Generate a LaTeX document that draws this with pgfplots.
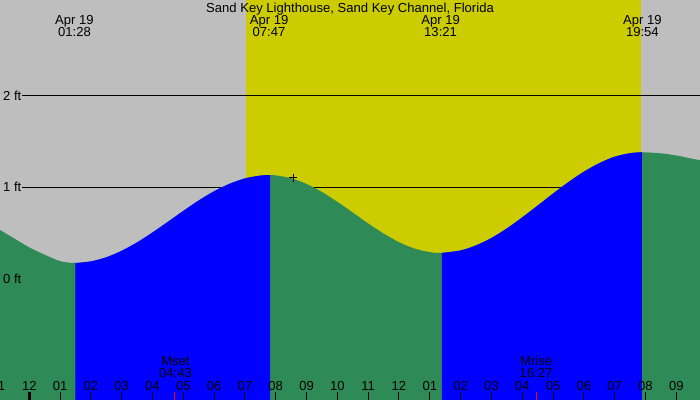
\documentclass[border=0pt]{standalone}
\usepackage{pgfplots}
\pgfplotsset{compat=1.18}
\usepackage{fontspec}
\setmainfont{Liberation Sans}
\definecolor{bggray}{HTML}{BEBEBE}
\definecolor{sunyel}{HTML}{CCCC00}
\definecolor{tidegreen}{HTML}{2E8B57}
\definecolor{tideblue}{HTML}{0000FF}

\begin{document}
\begin{tikzpicture}[font=\fontsize{9.8}{11}\selectfont]
\begin{axis}[
    scale only axis,
    width=525pt, height=300pt,
    xmin=-0.95, xmax=21.77,
    ymin=-1.328, ymax=3.044,
    axis background/.style={fill=bggray},
    axis line style={draw=none},
    axis on top,
    ytick=\empty,
    xtick={-1,0,...,21},
    xticklabels={11,12,01,02,03,04,05,06,07,08,09,10,11,12,01,02,03,04,05,06,07,08,09},
    xtick pos=bottom,
    tick align=inside,
    major tick length=6pt,
    tick style={black, line width=0.75pt},
    xticklabel style={anchor=base, yshift=7.5pt},
    clip=true,
]
% daylight
\addplot[fill=sunyel, draw=none] coordinates {(7.03,-1.4) (7.03,3.1) (19.85,3.1) (19.85,-1.4)} -- cycle;
% height lines
\addplot[black, line width=0.75pt] coordinates {(-0.237,0) (21.8,0)};
\addplot[black, line width=0.75pt] coordinates {(-0.237,1) (21.8,1)};
\addplot[black, line width=0.75pt] coordinates {(-0.237,2) (21.8,2)};
% tide, falling parts (green) over the whole day
\addplot[fill=tidegreen, draw=none, smooth] coordinates {
  (-1.0,0.54) (-0.5,0.44) (0.0,0.34) (0.5,0.26) (1.0,0.19) (1.47,0.17)
  (2.0,0.187) (2.5,0.232) (3.0,0.303) (3.5,0.395) (4.0,0.503) (4.5,0.620)
  (5.0,0.739) (5.5,0.853) (6.0,0.954) (6.5,1.035) (7.0,1.094) (7.5,1.125) (7.78,1.13)
  (8.0,1.127) (8.5,1.096) (9.0,1.033) (9.5,0.946) (10.0,0.838) (10.5,0.721)
  (11.0,0.602) (11.5,0.491) (12.0,0.397) (12.5,0.328) (13.0,0.288) (13.35,0.28)
  (14.0,0.307) (14.5,0.362) (15.0,0.443) (15.5,0.547) (16.0,0.668) (16.5,0.797)
  (17.0,0.928) (17.5,1.054) (18.0,1.167) (18.5,1.261) (19.0,1.331) (19.5,1.370) (19.9,1.38)
  (20.5,1.368) (21.0,1.345) (21.5,1.31) (21.9,1.285)
} -- (axis cs:21.9,-1.5) -- (axis cs:-1.0,-1.5) -- cycle;
% rising parts (blue)
\addplot[fill=tideblue, draw=none, smooth] coordinates {
  (1.50,0.17) (2.0,0.187) (2.5,0.232) (3.0,0.303) (3.5,0.395) (4.0,0.503) (4.5,0.620)
  (5.0,0.739) (5.5,0.853) (6.0,0.954) (6.5,1.035) (7.0,1.094) (7.5,1.125) (7.82,1.13)
} -- (axis cs:7.82,-1.5) -- (axis cs:1.50,-1.5) -- cycle;
\addplot[fill=tideblue, draw=none, smooth] coordinates {
  (13.39,0.28) (14.0,0.307) (14.5,0.362) (15.0,0.443) (15.5,0.547) (16.0,0.668) (16.5,0.797)
  (17.0,0.928) (17.5,1.054) (18.0,1.167) (18.5,1.261) (19.0,1.331) (19.5,1.370) (19.88,1.38)
} -- (axis cs:19.88,-1.5) -- (axis cs:13.39,-1.5) -- cycle;
% current time
\addplot[only marks, mark=+, mark size=3pt, black, line width=0.75pt] coordinates {(8.56,1.10)};
% special ticks
\addplot[black, line width=2.25pt] coordinates {(0,-1.33) (0,-1.240)};
\addplot[red, line width=0.75pt] coordinates {(4.717,-1.33) (4.717,-1.240)};
\addplot[red, line width=0.75pt] coordinates {(16.45,-1.33) (16.45,-1.240)};
% texts
\node[anchor=base] at (axis cs:10.41,2.912) {Sand Key Lighthouse, Sand Key Channel, Florida};
\node[anchor=base] at (axis cs:1.467,2.781) {Apr 19};
\node[anchor=base] at (axis cs:1.467,2.650) {01:28};
\node[anchor=base] at (axis cs:7.783,2.781) {Apr 19};
\node[anchor=base] at (axis cs:7.783,2.650) {07:47};
\node[anchor=base] at (axis cs:13.35,2.781) {Apr 19};
\node[anchor=base] at (axis cs:13.35,2.650) {13:21};
\node[anchor=base] at (axis cs:19.9,2.781) {Apr 19};
\node[anchor=base] at (axis cs:19.9,2.650) {19:54};
\node[anchor=base] at (axis cs:4.745,-0.956) {Mset};
\node[anchor=base] at (axis cs:4.745,-1.080) {04:43};
\node[anchor=base] at (axis cs:16.45,-0.956) {Mrise};
\node[anchor=base] at (axis cs:16.45,-1.080) {16:27};
\node[anchor=base] at (axis cs:-1.0,-1.219) {11};
\node[anchor=west, inner sep=0pt] at (axis cs:-0.854,2) {2 ft};
\node[anchor=west, inner sep=0pt] at (axis cs:-0.854,1) {1 ft};
\node[anchor=west, inner sep=0pt] at (axis cs:-0.854,0) {0 ft};
\end{axis}
\pgfresetboundingbox
\path[use as bounding box] (0,0) rectangle (525pt,300pt);
\end{tikzpicture}
\end{document}
